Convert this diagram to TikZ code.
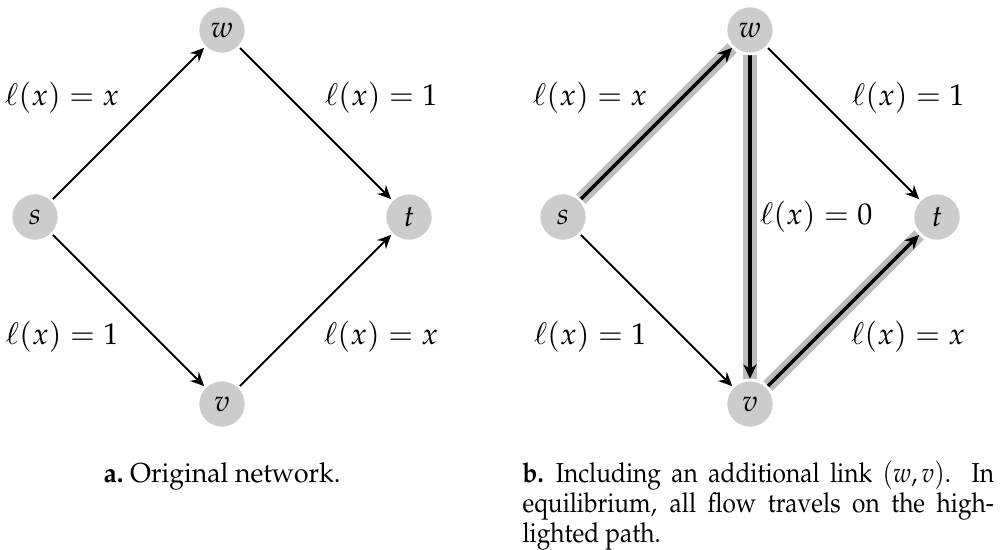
\documentclass[tikz,border=0pt]{standalone}
\usepackage[T1]{fontenc}
\usepackage{mathpazo}
\usepackage{graphicx}
\usetikzlibrary{arrows.meta,backgrounds}
\definecolor{vgray}{HTML}{CCCCCC}
\definecolor{hgray}{HTML}{BDBDBD}
\begin{document}
\begin{tikzpicture}[x=0.35pt,y=-0.35pt,
  vtx/.style={circle,fill=vgray,draw=white,line width=0.9pt,minimum size=16.8pt,inner sep=0pt,font=\fontsize{10.5}{12}\selectfont},
  lab/.style={font=\fontsize{10.5}{12}\selectfont,inner sep=0pt},
  arc/.style={line width=0.7pt,-{Stealth[length=4.8pt,width=4.4pt,inset=1.6pt]}},
  hl/.style={line width=4.6pt,draw=hgray},
  hlarc/.style={line width=1.2pt,-{Stealth[length=5pt,width=4.6pt,inset=1.6pt]}},
  capt/.style={font=\fontsize{9.6}{10.5}\selectfont,inner sep=0pt}]
\useasboundingbox (0,0) rectangle (1006,549);
% left network
\node[vtx] (s1) at (35,217) {$s$};
\node[vtx] (w1) at (222,30) {$w$};
\node[vtx] (t1) at (409,217) {$t$};
\node[vtx] (v1) at (222,404) {$v$};
% right network
\node[vtx] (s2) at (563,217) {$s$};
\node[vtx] (w2) at (750,30) {$w$};
\node[vtx] (t2) at (937,217) {$t$};
\node[vtx] (v2) at (750,404) {$v$};
\begin{scope}[on background layer]
  \draw[arc] (s1) -- (w1);
  \draw[arc] (w1) -- (t1);
  \draw[arc] (s1) -- (v1);
  \draw[arc] (v1) -- (t1);
  \draw[hl] (s2) -- (w2);
  \draw[hl] (w2) -- (v2);
  \draw[hl] (v2) -- (t2);
  \draw[hlarc] (s2) -- (w2);
  \draw[hlarc] (w2) -- (v2);
  \draw[hlarc] (v2) -- (t2);
  \draw[arc] (w2) -- (t2);
  \draw[arc] (s2) -- (v2);
\end{scope}
% labels
\node[lab] (l1) at (62,98) {$\ell(x) = x$};
\node[lab] (l2) at (381,98) {$\ell(x) = 1$};
\node[lab] (l3) at (62,337) {$\ell(x) = 1$};
\node[lab] (l4) at (381,337) {$\ell(x) = x$};
\node[lab] (r1) at (590,98) {$\ell(x) = x$};
\node[lab] (r2) at (908,98) {$\ell(x) = 1$};
\node[lab] (r0) at (816,217) {$\ell(x) = 0$};
\node[lab] (r3) at (590,337) {$\ell(x) = 1$};
\node[lab] (r4) at (908,337) {$\ell(x) = x$};
% captions
\node[capt,anchor=base west] (ca) at (103,482) {\scalebox{0.97}[1]{\textbf{a.}\ Original network.}};
\node[capt,anchor=base west] (cb) at (522,482)
  {\scalebox{0.892}[1]{\parbox[t]{185pt}{\hyphenpenalty=10000\emergencystretch=20pt
   \textbf{b.}\enspace Including an additional link $(w,v)$. In\linebreak equilibrium, all flow travels on the high-\linebreak lighted path.}}};
\end{tikzpicture}
\end{document}
